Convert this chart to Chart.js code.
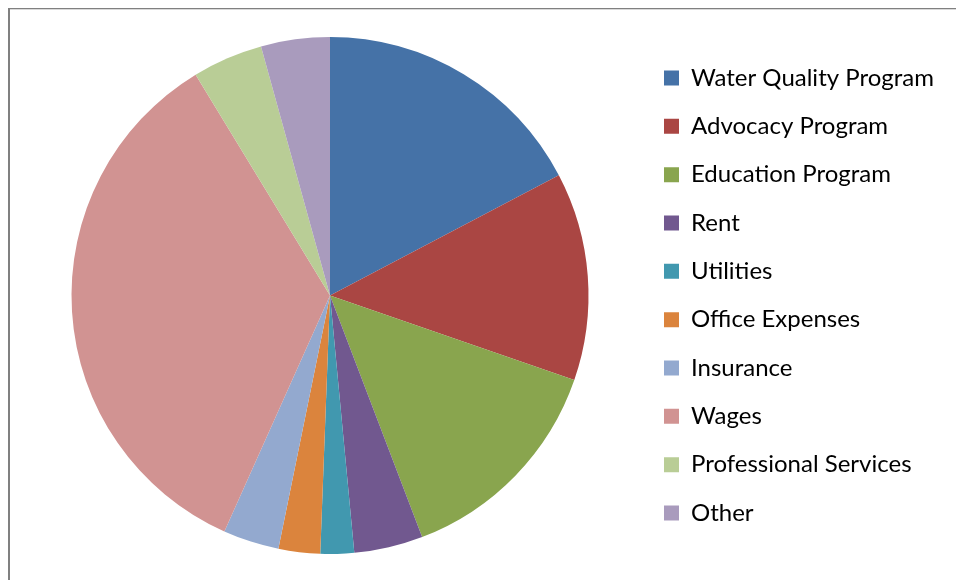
<!DOCTYPE html>
<html>
<head>
<meta charset="utf-8">
<script src="https://cdn.jsdelivr.net/npm/chart.js@4"></script>
<style>
  html, body { margin: 0; padding: 0; background: #ffffff; }
  #wrap { width: 956px; height: 580px; position: relative; }
</style>
</head>
<body>
<div id="wrap"><canvas id="c" width="956" height="580"></canvas></div>
<script>
const categories = ["Water Quality Program", "Advocacy Program", "Education Program", "Rent", "Utilities", "Office Expenses", "Insurance", "Wages", "Professional Services", "Other"];
const shares = [17.3, 13.0, 13.9, 4.3, 2.1, 2.6, 3.5, 34.6, 4.4, 4.3];
const sliceColors = ["#4572A7", "#AA4643", "#89A54E", "#71588F", "#4198AF", "#DB843D", "#93A9CF", "#D19392", "#B9CD96", "#A99BBD"];

const FONT_FAMILY = "Lato";
const FONT_SIZE = 24;
const BOX = 15;
const ROW_STEP = 48.33;
const LEG_PAD = ROW_STEP - FONT_SIZE;
const BOX_X = 664;
const PIE_CX = 330;
const LEGEND_LEFT = BOX_X - LEG_PAD;
const padLeft = 2 * PIE_CX - LEGEND_LEFT;

// measure longest label to position legend
const mctx = document.createElement('canvas').getContext('2d');
mctx.font = FONT_SIZE + "px " + FONT_FAMILY;
let maxW = 0;
categories.forEach(t => { maxW = Math.max(maxW, mctx.measureText(t).width); });
const legendWidth = LEG_PAD + BOX + FONT_SIZE / 2 + maxW + 10;
const padRight = Math.max(0, 956 - LEGEND_LEFT - legendWidth);

const framePlugin = {
  id: 'frame',
  beforeDraw(chart) {
    const ctx = chart.ctx;
    ctx.save();
    ctx.fillStyle = '#808080';
    ctx.fillRect(8, 8, 948, 1);
    ctx.fillRect(8, 8, 2, 572);
    ctx.fillStyle = '#d9d9d9';
    ctx.fillRect(10, 9, 946, 1);
    ctx.restore();
  }
};

new Chart(document.getElementById('c'), {
  type: 'pie',
  data: {
    labels: categories,
    datasets: [{
      data: shares,
      backgroundColor: sliceColors,
      borderWidth: 0
    }]
  },
  options: {
    responsive: false,
    animation: false,
    layout: { padding: { top: 37, bottom: 26, left: padLeft, right: padRight } },
    plugins: {
      legend: {
        position: 'right',
        labels: {
          boxWidth: BOX,
          boxHeight: BOX,
          padding: LEG_PAD,
          color: '#000000',
          font: { family: FONT_FAMILY, size: FONT_SIZE }
        }
      },
      tooltip: { enabled: false }
    }
  },
  plugins: [framePlugin]
});
</script>
</body>
</html>
